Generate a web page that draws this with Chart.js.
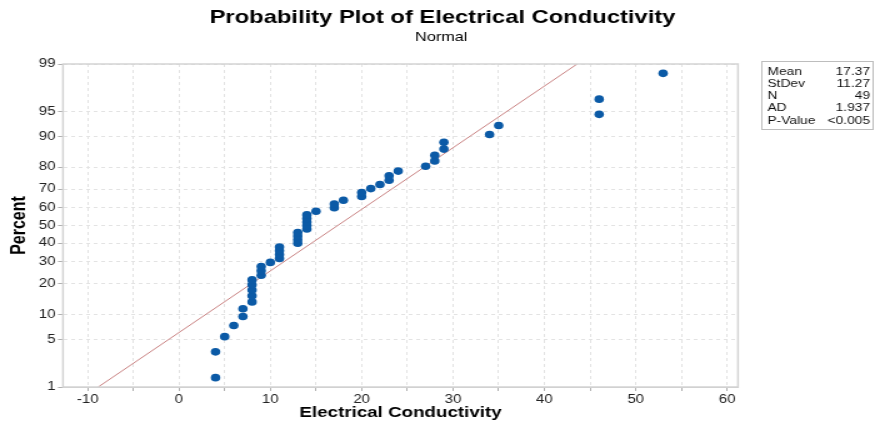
<!DOCTYPE html>
<html>
<head>
<meta charset="utf-8">
<script src="https://cdn.jsdelivr.net/npm/chart.js@4"></script>
<style>
  html, body { margin: 0; padding: 0; background: #ffffff; overflow: hidden; }
  #wrap { width: 875px; height: 425px; position: relative; }
  /* the source picture is stretched sideways by 1.25 */
  #probChart { transform: scaleX(1.25); transform-origin: 0 0; display: block; }
</style>
</head>
<body>
<div id="wrap"><canvas id="probChart" width="700" height="425"></canvas></div>
<script>
// Probability plot data
const conductivity = [
  4, 4, 5, 6, 7, 7, 8, 8, 8, 8, 8, 9, 9, 9, 10, 11, 11, 11, 11, 13,
  13, 13, 13, 14, 14, 14, 14, 14, 15, 17, 17, 18, 20, 20, 21, 22, 23, 23, 24, 27,
  28, 28, 29, 29, 34, 35, 46, 46, 53
];
const percents = [
  1.42, 3.44, 5.47, 7.49, 9.51, 11.54, 13.56, 15.59, 17.61, 19.64,
  21.66, 23.68, 25.71, 27.73, 29.76, 31.78, 33.81, 35.83, 37.85, 39.88,
  41.90, 43.93, 45.95, 47.98, 50.00, 52.02, 54.05, 56.07, 58.10, 60.12,
  62.15, 64.17, 66.19, 68.22, 70.24, 72.27, 74.29, 76.32, 78.34, 80.36,
  82.39, 84.41, 86.44, 88.46, 90.49, 92.51, 94.53, 96.56, 98.58
];

// fitted normal line, end points
const fitX = [-8.85, 43.59];
const fitPercent = [1, 99];

const percentTicks = [1, 5, 10, 20, 30, 40, 50, 60, 70, 80, 90, 95, 99];
const xTicks = [-10, -5, 0, 5, 10, 15, 20, 25, 30, 35, 40, 45, 50, 55, 60];

const statLabels = ['Mean', 'StDev', 'N', 'AD', 'P-Value'];
const statValues = ['17.37', '11.27', '49', '1.937', '<0.005'];

const FONT = '"Liberation Sans", Arial, sans-serif';
const DOT = '#0b5aa6';
const FIT = '#c98383';

// inverse normal cdf (Acklam)
function probit(p) {
  const a = [-39.69683028665376, 220.9460984245205, -275.9285104469687, 138.3577518672690, -30.66479806614716, 2.506628277459239];
  const b = [-54.47609879822406, 161.5858368580409, -155.6989798598866, 66.80131188771972, -13.28068155288572];
  const c = [-0.007784894002430293, -0.3223964580411365, -2.400758277161838, -2.549732539343734, 4.374664141464968, 2.938163982698783];
  const d = [0.007784695709041462, 0.3224671290700398, 2.445134137142996, 3.754408661907416];
  const pl = 0.02425;
  let q, r;
  if (p < pl) {
    q = Math.sqrt(-2 * Math.log(p));
    return (((((c[0]*q+c[1])*q+c[2])*q+c[3])*q+c[4])*q+c[5]) / ((((d[0]*q+d[1])*q+d[2])*q+d[3])*q+1);
  }
  if (p > 1 - pl) {
    q = Math.sqrt(-2 * Math.log(1 - p));
    return -(((((c[0]*q+c[1])*q+c[2])*q+c[3])*q+c[4])*q+c[5]) / ((((d[0]*q+d[1])*q+d[2])*q+d[3])*q+1);
  }
  q = p - 0.5;
  r = q * q;
  return (((((a[0]*r+a[1])*r+a[2])*r+a[3])*r+a[4])*r+a[5])*q / (((((b[0]*r+b[1])*r+b[2])*r+b[3])*r+b[4])*r+1);
}

function normCdf(z) {
  // bisection on probit, good enough for pixel -> value
  let lo = 1e-6, hi = 1 - 1e-6;
  for (let i = 0; i < 60; i++) {
    const mid = (lo + hi) / 2;
    if (probit(mid) < z) lo = mid; else hi = mid;
  }
  return (lo + hi) / 2;
}

// Percent axis on a normal probability scale
class ProbitScale extends Chart.LinearScale {
  buildTicks() {
    return percentTicks.map(v => ({ value: v }));
  }
  configure() {
    super.configure();
    this._zStart = probit(this.min / 100);
    this._zRange = probit(this.max / 100) - this._zStart;
  }
  getPixelForValue(value) {
    return this.getPixelForDecimal((probit(value / 100) - this._zStart) / this._zRange);
  }
  getValueForPixel(pixel) {
    const dec = this.getDecimalForPixel(pixel);
    return normCdf(this._zStart + dec * this._zRange) * 100;
  }
}
ProbitScale.id = 'probit';
ProbitScale.defaults = Chart.LinearScale.defaults;
Chart.register(ProbitScale);

const frameAndText = {
  id: 'frameAndText',
  afterDraw(chart) {
    const ctx = chart.ctx;
    const a = chart.chartArea;
    ctx.save();
    // plot frame
    ctx.strokeStyle = '#d3d3d3';
    ctx.lineWidth = 1.5;
    ctx.strokeRect(a.left, a.top, a.right - a.left, a.bottom - a.top);

    // titles
    ctx.fillStyle = '#000';
    ctx.textAlign = 'center';
    ctx.textBaseline = 'middle';
    ctx.font = 'bold 19px ' + FONT;
    ctx.fillText('Probability Plot of Electrical Conductivity', 354, 18);
    ctx.font = '13px ' + FONT;
    ctx.fillText('Normal', 353, 37);

    // stats box
    const bx = 609, by = 61, bw = 89, bh = 68;
    ctx.strokeStyle = '#bdbdbd';
    ctx.lineWidth = 1;
    ctx.strokeRect(bx + 0.5, by + 0.5, bw, bh);
    ctx.font = '11px ' + FONT;
    ctx.fillStyle = '#111';
    statLabels.forEach((lab, i) => {
      const y = by + 10.5 + i * 12.3;
      ctx.textAlign = 'left';
      ctx.fillText(lab, bx + 5, y);
      ctx.textAlign = 'right';
      ctx.fillText(statValues[i], bx + bw - 2, y);
    });
    ctx.restore();
  }
};

const ctx = document.getElementById('probChart').getContext('2d');
const chart = new Chart(ctx, {
  type: 'scatter',
  data: {
    datasets: [
      {
        label: 'Fit',
        type: 'line',
        data: fitX.map((x, i) => ({ x: x, y: fitPercent[i] })),
        borderColor: FIT,
        borderWidth: 1,
        pointRadius: 0,
        fill: false,
        order: 2
      },
      {
        label: 'Electrical Conductivity',
        data: conductivity.map((x, i) => ({ x: x, y: percents[i] })),
        pointStyle: 'circle',
        pointRadius: 3.8,
        borderWidth: 0,
        backgroundColor: DOT,
        borderColor: DOT,
        order: 1
      }
    ]
  },
  options: {
    responsive: false,
    animation: false,
    layout: {
      padding: { top: 64, right: 109.6, left: 0, bottom: 0 }
    },
    plugins: {
      legend: { display: false },
      tooltip: { enabled: false }
    },
    scales: {
      x: {
        type: 'linear',
        min: -12.7,
        max: 61.2,
        afterBuildTicks: scale => {
          scale.ticks = xTicks.map(v => ({ value: v }));
        },
        afterFit: scale => {
          scale.height = 38;
        },
        grid: {
          color: '#e3e3e3',
          tickColor: '#b0b0b0',
          tickLength: 4,
          lineWidth: 1
        },
        border: { display: true, color: '#c8c8c8', dash: [3, 3] },
        ticks: {
          color: '#222',
          padding: 1,
          font: { family: FONT, size: 12 },
          callback: v => (v % 10 === 0 ? String(v) : '')
        },
        title: {
          display: true,
          text: 'Electrical Conductivity',
          color: '#000',
          font: { family: FONT, size: 15, weight: 'bold' },
          padding: { top: 0, bottom: 3 }
        }
      },
      y: {
        type: 'probit',
        min: 1,
        max: 99,
        afterFit: scale => {
          scale.width = 50.4;
        },
        grid: {
          color: '#e3e3e3',
          tickColor: '#b0b0b0',
          tickLength: 4,
          lineWidth: 1
        },
        border: { display: true, color: '#c8c8c8', dash: [3, 3] },
        ticks: {
          color: '#222',
          padding: 2,
          font: { family: FONT, size: 12 },
          callback: v => String(v)
        },
        title: {
          display: true,
          text: 'Percent',
          color: '#000',
          font: { family: FONT, size: 16, weight: 'bold' },
          padding: { top: 6, bottom: 0 }
        }
      }
    }
  },
  plugins: [frameAndText]
});
</script>
</body>
</html>
